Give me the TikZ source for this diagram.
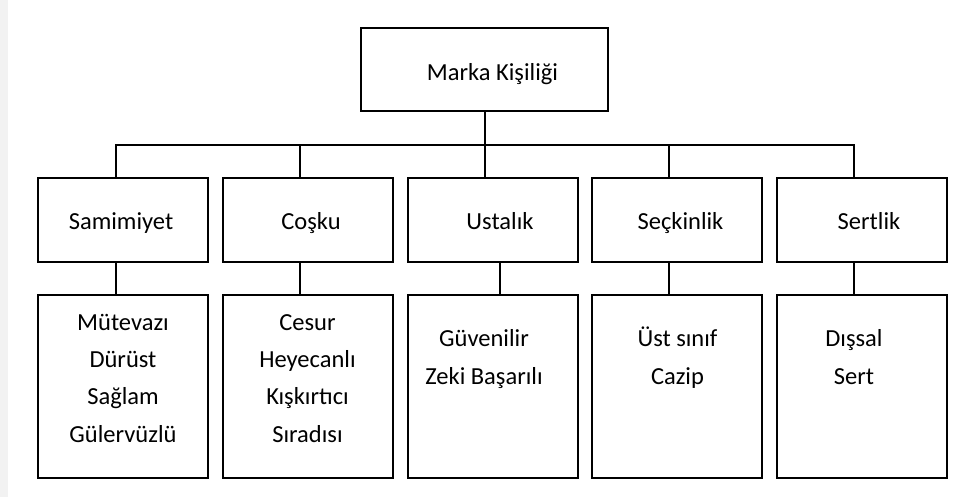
\documentclass[tikz,border=0pt]{standalone}
\usepackage{fontspec}
\setmainfont{Carlito}
\begin{document}
\begin{tikzpicture}[x=1pt,y=-1pt,
  box/.style={draw=black,line width=2pt,inner sep=0pt,minimum width=170pt},
  headbox/.style={box,minimum height=84pt},
  listbox/.style={box,minimum height=183pt},
  lbl/.style={inner sep=0pt,font=\fontsize{24.5}{37.3}\selectfont,align=center,anchor=base},
  link/.style={draw=black,line width=2pt}]
\useasboundingbox (0,0) rectangle (962,497);
\fill[black!5] (0,0) rectangle (8,497);
% top
\node[box,minimum width=247pt,minimum height=83pt] (top) at (484.5,69.5) {};
\node[lbl] (ttop) at (492.5,81) {Marka Kişiliği};
% row 2
\node[headbox] (h1) at (123,220) {};
\node[headbox] (h2) at (307.5,220) {};
\node[headbox] (h3) at (492.5,220) {};
\node[headbox] (h4) at (677,220) {};
\node[headbox] (h5) at (861.5,220) {};
\node[lbl] (th1) at (121,230) {Samimiyet};
\node[lbl] (th2) at (311,230) {Coşku};
\node[lbl] (th3) at (500,230) {Ustalık};
\node[lbl] (th4) at (680.5,230) {Seçkinlik};
\node[lbl] (th5) at (869,230) {Sertlik};
% row 3
\node[listbox] (l1) at (123,386.5) {};
\node[listbox] (l2) at (307.5,386.5) {};
\node[listbox] (l3) at (492.5,386.5) {};
\node[listbox] (l4) at (677,386.5) {};
\node[listbox] (l5) at (861.5,386.5) {};
\node[lbl] (tl1) at (123,442) {Mütevazı\\Dürüst\\Sağlam\\Gülervüzlü};
\node[lbl] (tl2) at (307.5,442) {Cesur\\Heyecanlı\\Kışkırtıcı\\Sıradısı};
\node[lbl] (tl3) at (484,384) {Güvenilir\\Zeki Başarılı};
\node[lbl] (tl4) at (677.5,384) {Üst sınıf\\Cazip};
\node[lbl] (tl5) at (854,384) {Dışsal\\Sert};
% connectors
\coordinate (bus) at (0,145);
\coordinate (s1) at ([xshift=-7pt]h1.north);
\coordinate (s2) at ([xshift=-7.5pt]h2.north);
\coordinate (s3) at ([xshift=-7.5pt]h3.north);
\coordinate (s4) at ([xshift=-8pt]h4.north);
\coordinate (s5) at ([xshift=-7.5pt]h5.north);
\draw[link] (top.south) -- (top.south |- h3.north);
\draw[link] (s1) -- (s1 |- bus) -- (s5 |- bus) -- (s5);
\draw[link] (s2) -- (s2 |- bus);
\draw[link] (s4) -- (s4 |- bus);
\draw[link] ([xshift=-7pt]h1.south) -- ([xshift=-7pt]h1.south |- l1.north);
\draw[link] ([xshift=-7.5pt]h2.south) -- ([xshift=-7.5pt]h2.south |- l2.north);
\draw[link] ([xshift=7.5pt]h3.south) -- ([xshift=7.5pt]h3.south |- l3.north);
\draw[link] ([xshift=-8pt]h4.south) -- ([xshift=-8pt]h4.south |- l4.north);
\draw[link] ([xshift=-7.5pt]h5.south) -- ([xshift=-7.5pt]h5.south |- l5.north);
\end{tikzpicture}
\end{document}
